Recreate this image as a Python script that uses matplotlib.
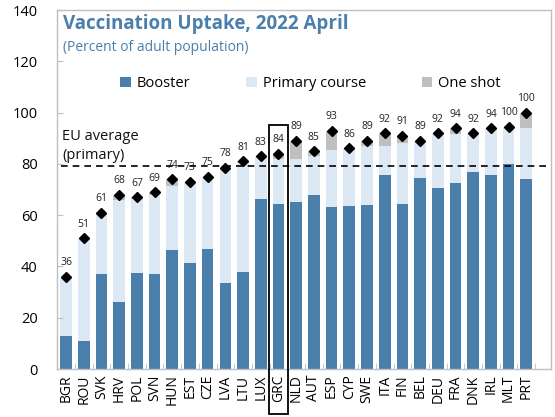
import matplotlib
matplotlib.use('Agg')
import matplotlib.pyplot as plt
from matplotlib.patches import Rectangle
import numpy as np

plt.rcParams['font.family'] = ['Open Sans', 'DejaVu Sans']

countries = ['BGR', 'ROU', 'SVK', 'HRV', 'POL', 'SVN', 'HUN', 'EST', 'CZE', 'LVA',
             'LTU', 'LUX', 'GRC', 'NLD', 'AUT', 'ESP', 'CYP', 'SWE', 'ITA', 'FIN',
             'BEL', 'DEU', 'FRA', 'DNK', 'IRL', 'MLT', 'PRT']
booster = [13, 11, 37, 26, 37.5, 37, 46.5, 41.5, 47, 33.5,
           38, 66.5, 64.5, 65, 68, 63, 63.5, 64, 75.5, 64.5,
           74.5, 70.5, 72.5, 77, 75.5, 80, 74]
primary = [23, 40, 23, 40, 29, 31, 25, 31.5, 28, 44.5,
           42.5, 16.5, 17.5, 17, 15, 22.5, 22.5, 23, 11.5, 23.5,
           14.5, 21.5, 19, 15, 18.5, 14.5, 20]
one_shot = [0, 0, 1, 2, 0.5, 1, 2.5, 0, 0, 0.5,
            0.5, 0, 2, 7, 2, 7.5, 0, 2, 5, 3,
            0, 0, 2.5, 0, 0, 0, 6]
labels = ['36', '51', '61', '68', '67', '69', '74', '73', '75', '78',
          '81', '83', '84', '89', '85', '93', '86', '89', '92', '91',
          '89', '92', '94', '92', '94', '100', '100']
eu_avg = 79

c_boost = '#4a7eab'
c_prim = '#dde8f5'
c_one = '#bfbfbf'
c_title = '#4a7eab'

booster = np.array(booster)
primary = np.array(primary)
one_shot = np.array(one_shot)
total = booster + primary + one_shot
x = np.arange(len(countries))

fig = plt.figure(figsize=(5.55, 4.17), dpi=100)
ax = fig.add_axes([0.103, 0.115, 0.89, 0.861])

w = 0.66
ax.bar(x, booster, w, color=c_boost, label='Booster')
ax.bar(x, primary, w, bottom=booster, color=c_prim, label='Primary course')
ax.bar(x, one_shot, w, bottom=booster + primary, color=c_one, label='One shot')
ax.plot(x, total, 'D', color='black', markersize=5.5, zorder=4)
for xi, t, lab in zip(x, total, labels):
    ax.annotate(lab, (xi, t), xytext=(0, 6), textcoords='offset points',
                ha='center', va='bottom', fontsize=7.5, color='#222222')

ax.plot([-0.3, 27.1], [eu_avg, eu_avg], '--', color='black', lw=1.2, dashes=(4, 3), zorder=3)
ax.text(-0.2, 80.5, 'EU average\n(primary)', fontsize=10.5, ha='left', va='bottom',
        linespacing=1.3, color='#111111')

# box around Greece
gi = countries.index('GRC')
ax.add_patch(Rectangle((gi - 0.55, -17.6), 1.1, 95.3 + 17.6, fill=False,
                       edgecolor='black', lw=1.3, clip_on=False, zorder=5))

ax.set_xlim(-0.5, 27.4)
ax.set_ylim(0, 140)
ax.set_yticks(range(0, 141, 20))
ax.set_xticks(x)
ax.set_xticklabels(countries, rotation=90, fontsize=10)
ax.set_xticks(np.arange(-0.5, 27, 1), minor=True)
ax.tick_params(axis='x', which='major', length=0, pad=4)
ax.tick_params(axis='x', which='minor', direction='in', length=4, color='#bfbfbf')
ax.tick_params(axis='y', direction='in', length=4, color='#bfbfbf', labelsize=10.5, pad=14)
for s in ax.spines.values():
    s.set_color('#bfbfbf')
    s.set_linewidth(1)

ax.text(0.012, 0.962, 'Vaccination Uptake, 2022 April', transform=ax.transAxes,
        fontsize=13.5, fontweight='bold', color=c_title, va='center', ha='left')
ax.text(0.012, 0.895, '(Percent of adult population)', transform=ax.transAxes,
        fontsize=10, color=c_title, va='center', ha='left')

ax.legend(loc='center', bbox_to_anchor=(0.513, 0.795), ncol=3, frameon=False,
          fontsize=10.5, handlelength=0.75, handleheight=0.75, handletextpad=0.4,
          columnspacing=3.8)

fig.savefig('out.png', dpi=100)
